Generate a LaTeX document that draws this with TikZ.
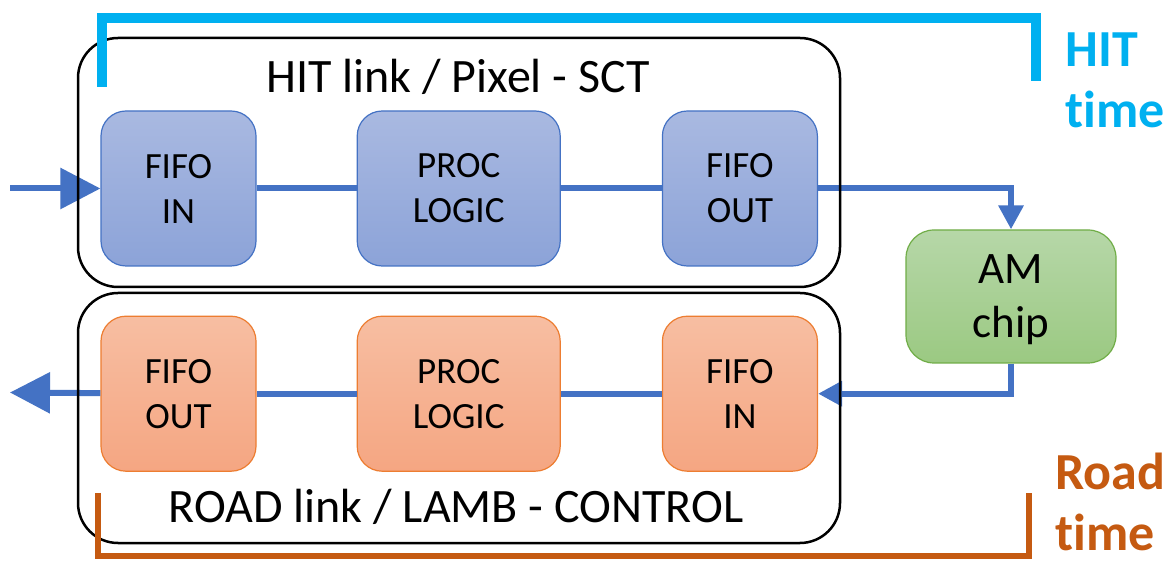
\documentclass[tikz,border=0pt]{standalone}
\usepackage{fontspec}
\setmainfont{Carlito}[Ligatures=CommonOff]
\usetikzlibrary{arrows.meta,positioning}
\definecolor{linkblue}{HTML}{4472C4}
\definecolor{hittop}{HTML}{A9B9E1}
\definecolor{hitbot}{HTML}{8CA3D8}
\definecolor{roadtop}{HTML}{F7BEA2}
\definecolor{roadbot}{HTML}{F5A682}
\definecolor{roadedge}{HTML}{ED7D31}
\definecolor{chiptop}{HTML}{B6D7A8}
\definecolor{chipbot}{HTML}{9BC982}
\definecolor{chipedge}{HTML}{70AD47}
\definecolor{hitcyan}{HTML}{00B0F0}
\definecolor{roadbrown}{HTML}{C55A11}

\begin{document}
\begin{tikzpicture}[x=1pt, y=1pt,
    fifo/.style={rectangle, rounded corners=25pt, minimum width=155pt, minimum height=155pt, inner sep=0pt, align=center, line width=1.2pt, font=\fontsize{37}{45}\selectfont},
    hitblock/.style={fifo, draw=linkblue, top color=hittop, bottom color=hitbot},
    roadblock/.style={fifo, draw=roadedge, top color=roadtop, bottom color=roadbot},
    proc/.style={minimum width=203pt},
    chip/.style={rectangle, rounded corners=28pt, minimum width=210pt, minimum height=133pt, align=center, line width=1.2pt, text depth=0pt, draw=chipedge, top color=chiptop, bottom color=chipbot, font=\fontsize{45}{54}\selectfont},
    frame/.style={rectangle, draw, line width=2.5pt, rounded corners=40pt, minimum width=762pt, minimum height=249pt},
    link/.style={draw=linkblue, line width=6pt},
    bigarrow/.style={link, -{Triangle[length=40pt, width=40pt]}},
    smallarrow/.style={link, -{Triangle[length=24pt, width=24pt]}},
    title/.style={anchor=base, font=\fontsize{48}{56}\selectfont},
    timing/.style={anchor=west, align=left, font=\fontsize{52}{61}\selectfont\bfseries}
]
\fill[white] (0,0) rectangle (1169,562);
\useasboundingbox (0,0) rectangle (1169,562);

% hit link row
\node[hitblock] (hfin) at (178.5,373.5) {FIFO\\IN};
\node[hitblock, proc, right=100pt of hfin] (hproc) {PROC\\LOGIC};
\node[hitblock, right=101pt of hproc] (hfout) {FIFO\\OUT};

% road link row
\node[roadblock, below=49pt of hfin] (rfout) {FIFO\\OUT};
\node[roadblock, proc, below=49pt of hproc] (rproc) {PROC\\LOGIC};
\node[roadblock, below=49pt of hfout] (rfin) {FIFO\\IN};

\node[chip] (am) at (1011,265.5) {AM\\chip};

\coordinate (in) at (10,373.5);
\coordinate (out) at (10,169.5);

\draw[bigarrow] (in) -- (hfin);
\draw[link] (hfin) -- (hproc);
\draw[link] (hproc) -- (hfout);
\draw[smallarrow] (hfout.east) -| (am.north);
\draw[smallarrow] (am.south) |- (rfin.east);
\draw[link] (rfin) -- (rproc);
\draw[link] (rproc) -- (rfout);
\draw[bigarrow] (rfout) -- (out);

% the two link frames
\node[frame] (hitframe) at (459,399.5) {};
\node[frame, minimum height=250pt] (roadframe) at (459,144) {};
\node[title] (hittitle) at (458,469) {HIT link / Pixel - SCT};
\node[title] (roadtitle) at (456,40) {ROAD link / LAMB - CONTROL};

% timing brackets
\draw[hitcyan, line width=10pt] (102,475) |- (1036,544) -- (1036,481);
\draw[roadbrown, line width=6pt] (98,69) |- (1029,6) -- (1029,69);
\node[timing, text=hitcyan] (hittime) at (1062,482) {HIT\\time};
\node[timing, text=roadbrown] (roadtime) at (1052,60) {Road\\time};
\end{tikzpicture}
\end{document}
